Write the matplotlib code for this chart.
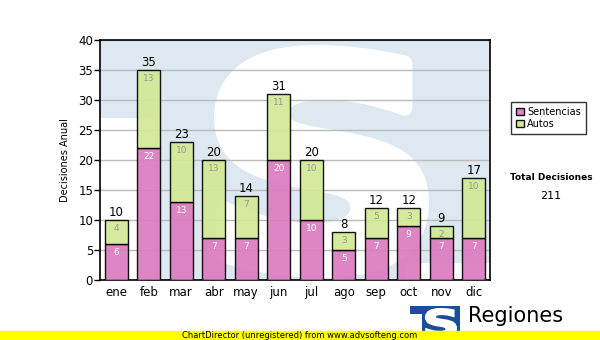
import numpy as np
import matplotlib
matplotlib.use("Agg")
import matplotlib.pyplot as plt
from matplotlib.patches import Rectangle, PathPatch, Polygon
from matplotlib.textpath import TextPath
from matplotlib.font_manager import FontProperties
from matplotlib.transforms import Affine2D

# data
meses = ['ene', 'feb', 'mar', 'abr', 'may', 'jun', 'jul', 'ago', 'sep', 'oct', 'nov', 'dic']
sentencias = [6, 22, 13, 7, 7, 20, 10, 5, 7, 9, 7, 7]
autos = [4, 13, 10, 13, 7, 11, 10, 3, 5, 3, 2, 10]
total_decisiones = 211

pink = '#dc7cbe'
green = '#d2e994'
wm_blue = '#dde8f1'
logo_blue = '#1b4f9c'


def s_path(x0, x1, y0, y1):
    # letter S path stretched into a box
    tp = TextPath((0, 0), 'S', size=1, prop=FontProperties(family='DejaVu Sans', weight='bold'))
    ext = tp.get_extents()
    tr = Affine2D().translate(-ext.x0, -ext.y0).scale((x1 - x0) / ext.width, (y1 - y0) / ext.height).translate(x0, y0)
    return tr.transform_path(tp)


fig = plt.figure(figsize=(6, 3.4), dpi=100)
ax = fig.add_axes([100 / 600, 60 / 340, 390 / 600, 240 / 340])


# pixel -> data helpers for the watermark
def px(v):
    return (v - 100) / 32.5 - 0.5


def py(v):
    return (280 - v) / 6.0


# watermark: pale logo block with a heavy white S cut in it
blk = [(80, 20), (510, 20), (510, 263), (405, 263), (405, 300), (155, 300), (155, 118), (80, 118)]
wm = Polygon([(px(a), py(b)) for a, b in blk], closed=True, facecolor=wm_blue, edgecolor='none', zorder=0)
ax.add_patch(wm)
wm.set_clip_path(ax.patch)
ws = PathPatch(s_path(px(222), px(421), py(270), py(53)), facecolor='white', edgecolor='white',
               linewidth=11.5, joinstyle='round', zorder=0.5)
ax.add_patch(ws)
ws.set_clip_path(ax.patch)

x = np.arange(len(meses))
tot = np.array(sentencias) + np.array(autos)
b1 = ax.bar(x, sentencias, width=0.7, color=pink, alpha=0.92, edgecolor='black', linewidth=1, zorder=3, label='Sentencias')
b2 = ax.bar(x, autos, bottom=sentencias, width=0.7, color=green, alpha=0.92, edgecolor='black', linewidth=1, zorder=3, label='Autos')

for i in range(len(meses)):
    ax.text(x[i], sentencias[i] - 0.6, str(sentencias[i]), ha='center', va='top', fontsize=6.5, color='white', zorder=4)
    ax.text(x[i], tot[i] - 0.6, str(autos[i]), ha='center', va='top', fontsize=6.5, color='#999999', zorder=4)
    ax.text(x[i], tot[i] + 0.2, str(tot[i]), ha='center', va='bottom', fontsize=8.5, color='black', zorder=4)

ax.set_xlim(-0.5, len(meses) - 0.5)
ax.set_ylim(0, 40)
ax.set_yticks(range(0, 41, 5))
ax.set_xticks(x)
ax.set_xticklabels(meses)
ax.tick_params(axis='x', length=0, labelsize=8.5, pad=4)
ax.tick_params(axis='y', length=4, width=1, labelsize=8.5, pad=1)
ax.yaxis.grid(True, color='#bbbbbb', linewidth=1, zorder=1)
ax.set_axisbelow(True)
for s in ax.spines.values():
    s.set_linewidth(1.2)
ax.set_ylabel('Decisiones Anual', fontsize=7, labelpad=6)

leg = fig.legend(handles=[b1, b2], labels=['Sentencias', 'Autos'], loc='upper left',
                 bbox_to_anchor=(506 / 600, 1 - 97 / 340), fontsize=7, frameon=True,
                 fancybox=False, edgecolor='black', handlelength=0.8, handleheight=0.8,
                 handletextpad=0.4, borderpad=0.5, labelspacing=0.2)
leg.get_frame().set_linewidth(1)

fig.text(551 / 600, 1 - 178 / 340, 'Total Decisiones', ha='center', va='center', fontsize=6.5, fontweight='bold')
fig.text(551 / 600, 1 - 196 / 340, str(total_decisiones), ha='center', va='center', fontsize=8)

# logo at bottom right
lax = fig.add_axes([0, 0, 1, 1], zorder=-1)
lax.set_xlim(0, 600)
lax.set_ylim(340, 0)
lax.axis('off')
lax.add_patch(Polygon([(410, 306), (460, 306), (460, 340), (422, 340), (422, 314), (410, 314)],
                      closed=True, facecolor=logo_blue, edgecolor='none'))
lax.add_patch(PathPatch(s_path(426, 456, 337, 309), facecolor='white', edgecolor='white', linewidth=1.5))
lax.text(468, 316, 'Regiones', ha='left', va='center', fontsize=15, color='black')
lax.text(470, 336, 'Tribunal Supremo de Justicia', ha='left', va='center', fontsize=6.5, color='black')

# yellow banner
fig.patches.append(Rectangle((0, 0), 1, 9 / 340, transform=fig.transFigure, color='#ffff00', zorder=3))
fig.text(300 / 600, 4.5 / 340, 'ChartDirector (unregistered) from www.advsofteng.com',
         ha='center', va='center', fontsize=6, color='black', zorder=4)

fig.savefig('out.png', dpi=100)
